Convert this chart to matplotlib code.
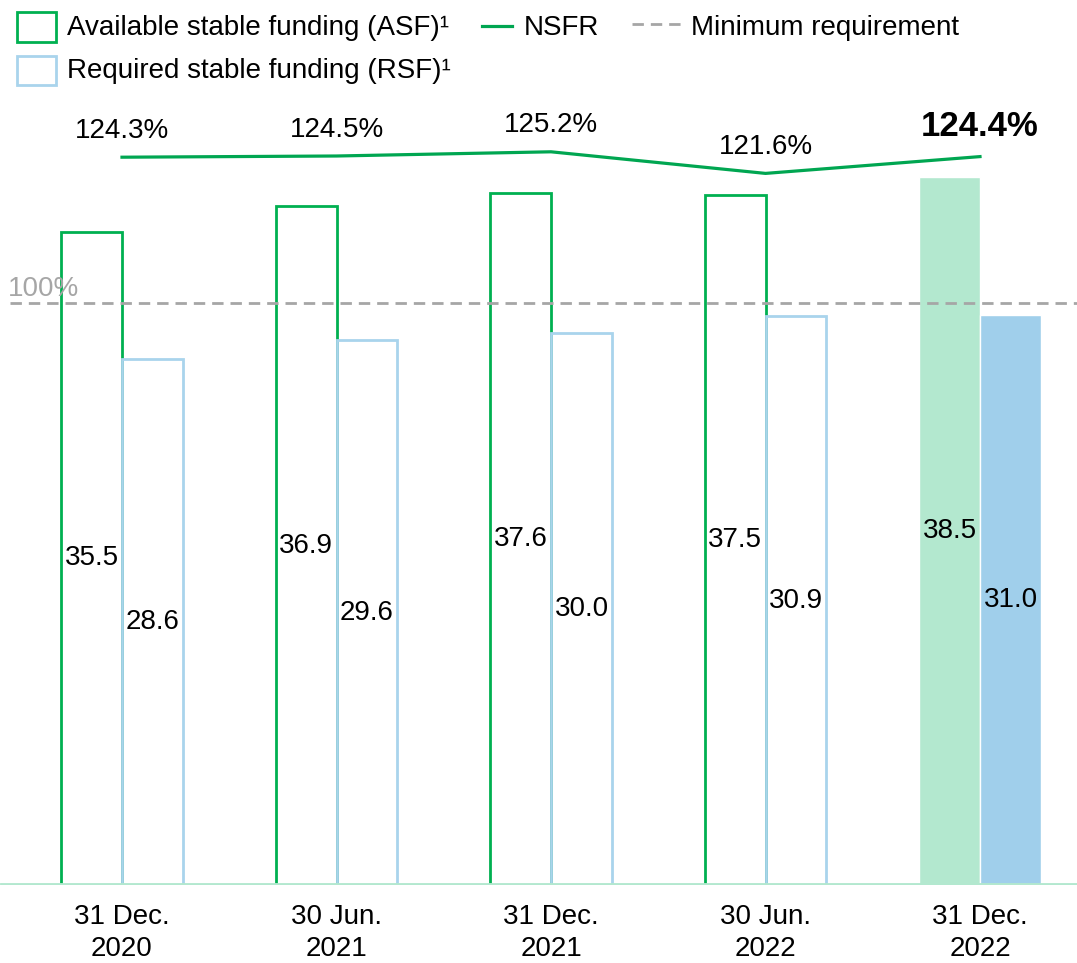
import matplotlib
matplotlib.use("Agg")
import matplotlib.pyplot as plt
from matplotlib.patches import Rectangle
from matplotlib.lines import Line2D
import numpy as np

plt.rcParams['font.family'] = ['Liberation Sans', 'DejaVu Sans']

categories = ["31 Dec.\n2020", "30 Jun.\n2021", "31 Dec.\n2021", "30 Jun.\n2022", "31 Dec.\n2022"]
asf = [35.5, 36.9, 37.6, 37.5, 38.5]
rsf = [28.6, 29.6, 30.0, 30.9, 31.0]
nsfr = [124.3, 124.5, 125.2, 121.6, 124.4]
minimum = 100

GREEN = "#00b050"
LINE_GREEN = "#00a651"
LIGHT_GREEN = "#b3e8cf"
BLUE_EDGE = "#a9d4ec"
BLUE_FILL = "#a0cfeb"
GREY = "#a6a6a6"
FS = 20
DASH = (0, (4.1, 2.5))

W, H = 1077, 963
fig = plt.figure(figsize=(W / 100, H / 100), dpi=100)

bottom_px, top_px = 885, 100
ax = fig.add_axes([0, (H - bottom_px) / H, 1, (bottom_px - top_px) / H])
ax2 = ax.twinx()

x = np.arange(len(categories))
bw = 0.284
ax.set_xlim(-122 / 214.5, (W - 122) / 214.5)
ax.set_ylim(0, (bottom_px - top_px) / 18.4)
lo2 = 100 - (bottom_px - 303) / 6.0
ax2.set_ylim(lo2, lo2 + (bottom_px - top_px) / 6.0)

n = len(categories)
for i in range(n):
    last = i == n - 1
    if last:
        ax.bar(x[i] - bw / 2, asf[i], bw, color=LIGHT_GREEN, edgecolor='white', linewidth=1.0, zorder=2)
        ax.bar(x[i] + bw / 2, rsf[i], bw, color=BLUE_FILL, edgecolor='white', linewidth=1.0, zorder=2)
    else:
        ax.bar(x[i] - bw / 2, asf[i], bw, facecolor='white', edgecolor=GREEN, linewidth=2.0, zorder=2)
        ax.bar(x[i] + bw / 2, rsf[i], bw, facecolor='none', edgecolor=BLUE_EDGE, linewidth=2.0, zorder=2)
    ax.text(x[i] - bw / 2, asf[i] / 2, f"{asf[i]:.1f}", ha='center', va='center', fontsize=FS, zorder=5)
    ax.text(x[i] + bw / 2, rsf[i] / 2, f"{rsf[i]:.1f}", ha='center', va='center', fontsize=FS, zorder=5)

ax.axhline(0, color=LIGHT_GREEN, lw=3.5, zorder=4, xmin=0.002)

ax2.axhline(minimum, color=GREY, lw=2, ls=DASH, xmin=0.009, zorder=1)
ax2.text(ax.get_xlim()[0] + 8 / 214.5, minimum + 0.1, f"{minimum}%", color=GREY, fontsize=FS,
         ha='left', va='bottom')
ax2.plot(x, nsfr, color=LINE_GREEN, lw=2.3, zorder=3)
for i in range(n):
    last = i == n - 1
    ax2.annotate(f"{nsfr[i]:.1f}%", (x[i], nsfr[i]), xytext=(0, 21.5 if last else 19),
                 textcoords='offset points', ha='center', va='center',
                 fontsize=25 if last else FS, fontweight='bold' if last else 'normal')

ax.set_xticks(x)
ax.set_xticklabels(categories, fontsize=FS, linespacing=1.3)
ax.tick_params(axis='x', length=0, pad=13.5)
ax.set_yticks([])
ax2.set_yticks([])
for a in (ax, ax2):
    for s in a.spines.values():
        s.set_visible(False)
ax.patch.set_visible(False)


def fx(px):
    return px / W


def fy(py):
    return 1 - py / H


fig.add_artist(Rectangle((fx(17), fy(42)), fx(39), 30 / H, transform=fig.transFigure,
                         facecolor='none', edgecolor=GREEN, lw=2))
fig.add_artist(Rectangle((fx(17), fy(85)), fx(39), 29 / H, transform=fig.transFigure,
                         facecolor='none', edgecolor=BLUE_EDGE, lw=2))
fig.text(fx(67), fy(28), "Available stable funding (ASF)\u00b9", fontsize=FS, va='center', ha='left')
fig.text(fx(67), fy(71), "Required stable funding (RSF)\u00b9", fontsize=FS, va='center', ha='left')
fig.add_artist(Line2D([fx(482), fx(512)], [fy(26), fy(26)], transform=fig.transFigure,
                      color=LINE_GREEN, lw=2.3))
fig.text(fx(524), fy(28), "NSFR", fontsize=FS, va='center', ha='left')
fig.add_artist(Line2D([fx(632), fx(681)], [fy(24), fy(24)], transform=fig.transFigure,
                      color=GREY, lw=2, ls=DASH))
fig.text(fx(691), fy(28), "Minimum requirement", fontsize=FS, va='center', ha='left')

fig.savefig("out.png", dpi=100)
